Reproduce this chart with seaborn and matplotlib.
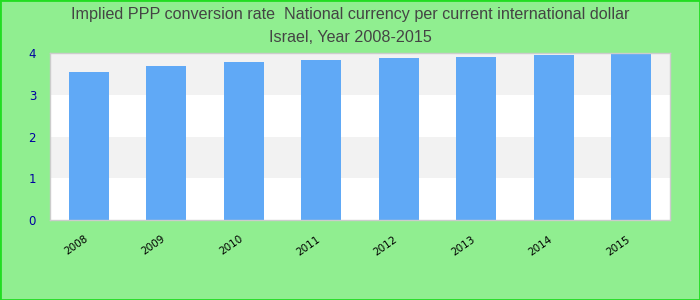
import matplotlib
matplotlib.use("Agg")
import matplotlib.pyplot as plt
import matplotlib.transforms as mtransforms
import seaborn as sns
import pandas as pd

years = ["2008", "2009", "2010", "2011", "2012", "2013", "2014", "2015"]
values = [3.55, 3.69, 3.79, 3.84, 3.89, 3.91, 3.96, 3.98]
title_lines = ["Implied PPP conversion rate  National currency per current international dollar",
               "Israel, Year 2008-2015"]

sns.set_theme(style="white")
plt.rcParams['font.family'] = ['Liberation Sans', 'DejaVu Sans']

df = pd.DataFrame({"year": years, "value": values})

fig = plt.figure(figsize=(7, 3), dpi=100, facecolor="#90EE90")
fig.patches.append(matplotlib.patches.Rectangle((0, 0), 1, 1, transform=fig.transFigure,
                                                fill=False, edgecolor="#22dd22", linewidth=2))
ax = fig.add_axes([50/700, 1-220/300, 620/700, (220-53)/300])
ax.set_facecolor("white")

for i in range(4):
    if i % 2 == 1:
        ax.axhspan(i, i+1, color="#f2f2f2", zorder=0, linewidth=0)

sns.barplot(data=df, x="year", y="value", color="#60A9F6", saturation=1, width=0.52,
            linewidth=0, ax=ax, zorder=2)

ax.set_ylim(0, 4)
ax.set_xlim(-0.5, len(years)-0.5)
ax.set_yticks([0, 1, 2, 3, 4])
ax.set_xlabel("")
ax.set_ylabel("")
ax.tick_params(axis="y", colors="#0000a0", labelsize=8.5, length=0, pad=10)
ax.tick_params(axis="x", colors="black", labelsize=7.5, length=0, pad=10)
for lab in ax.get_yticklabels():
    lab.set_fontfamily(['DejaVu Sans'])
offset = mtransforms.ScaledTranslation(-5/100, 0, fig.dpi_scale_trans)
for lab in ax.get_xticklabels():
    lab.set_fontfamily(['DejaVu Sans'])
    lab.set_rotation(35)
    lab.set_ha("right")
    lab.set_va("top")
    lab.set_rotation_mode("anchor")
    lab.set_transform(lab.get_transform() + offset)
for s in ax.spines.values():
    s.set_color("#cccccc")
    s.set_linewidth(1)

fig.text(0.5, 1-14/300, title_lines[0], ha="center", va="center", fontsize=11.6, color="#444444")
fig.text(0.5, 1-37/300, title_lines[1], ha="center", va="center", fontsize=11.6, color="#444444")

fig.savefig("out.png", dpi=100, facecolor=fig.get_facecolor())
